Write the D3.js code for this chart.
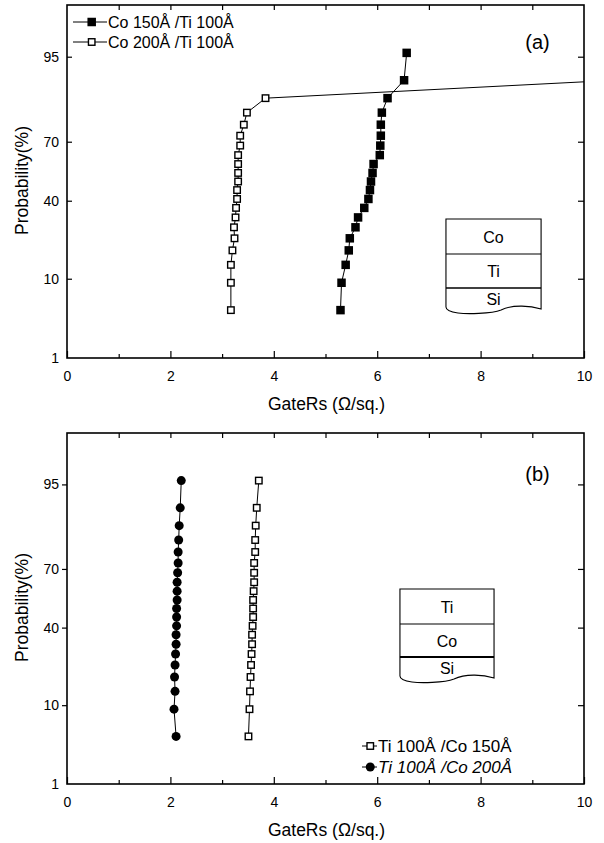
<!DOCTYPE html>
<html>
<head>
<meta charset="utf-8">
<script src="https://cdn.jsdelivr.net/npm/d3@7"></script>
<style>
  body { margin: 0; background: #fff; }
  svg { display: block; font-family: "Liberation Sans", Arial, Helvetica, sans-serif; }
</style>
</head>
<body>
<div id="grafica"></div>
<script>
// cumulative probability (%) of each sorted point, same for all four series
var probs = [4.5, 9.1, 13.6, 18.2, 22.7, 27.3, 31.8, 36.4, 40.9, 45.5, 50.0, 54.5, 59.1, 63.6, 68.2, 72.7, 77.3, 81.8, 86.4, 90.9, 95.5];

// panel (a) Co on Ti
var co150ti100 = [5.29, 5.31, 5.39, 5.45, 5.47, 5.58, 5.63, 5.75, 5.83, 5.86, 5.88, 5.91, 5.93, 6.05, 6.06, 6.07, 6.07, 6.09, 6.20, 6.52, 6.57];
var co200ti100 = [3.17, 3.17, 3.17, 3.20, 3.24, 3.23, 3.26, 3.27, 3.29, 3.29, 3.31, 3.31, 3.31, 3.31, 3.35, 3.35, 3.42, 3.48, 3.84, 10.6, 11.4];

// panel (b) Ti on Co
var ti100co150 = [3.51, 3.53, 3.54, 3.55, 3.56, 3.57, 3.58, 3.58, 3.59, 3.60, 3.60, 3.60, 3.61, 3.62, 3.62, 3.62, 3.64, 3.64, 3.65, 3.67, 3.71];
var ti100co200 = [2.11, 2.07, 2.09, 2.08, 2.09, 2.10, 2.11, 2.11, 2.12, 2.12, 2.12, 2.13, 2.13, 2.13, 2.14, 2.15, 2.15, 2.16, 2.17, 2.19, 2.21];

var xMajorTicks = [0, 2, 4, 6, 8, 10];
var xMinorTicks = [1, 3, 5, 7, 9];
var yTicks = [1, 10, 40, 70, 95];

// inverse normal cdf (Acklam) for the probability axis
function probit(p) {
    var a = [-3.969683028665376e+01, 2.209460984245205e+02, -2.759285104469687e+02, 1.383577518672690e+02, -3.066479806614716e+01, 2.506628277459239e+00];
    var b = [-5.447609879822406e+01, 1.615858368580409e+02, -1.556989798598866e+02, 6.680131188771972e+01, -1.328068155288572e+01];
    var c = [-7.784894002430293e-03, -3.223964580411365e-01, -2.400758277161838e+00, -2.549732539343734e+00, 4.374664141464968e+00, 2.938163982698783e+00];
    var d = [7.784695709041462e-03, 3.224671290700398e-01, 2.445134137142996e+00, 3.754408661907416e+00];
    var q, r;
    if (p < 0.02425) {
        q = Math.sqrt(-2 * Math.log(p));
        return (((((c[0] * q + c[1]) * q + c[2]) * q + c[3]) * q + c[4]) * q + c[5]) / ((((d[0] * q + d[1]) * q + d[2]) * q + d[3]) * q + 1);
    }
    if (p > 1 - 0.02425) {
        q = Math.sqrt(-2 * Math.log(1 - p));
        return -(((((c[0] * q + c[1]) * q + c[2]) * q + c[3]) * q + c[4]) * q + c[5]) / ((((d[0] * q + d[1]) * q + d[2]) * q + d[3]) * q + 1);
    }
    q = p - 0.5;
    r = q * q;
    return (((((a[0] * r + a[1]) * r + a[2]) * r + a[3]) * r + a[4]) * r + a[5]) * q / (((((b[0] * r + b[1]) * r + b[2]) * r + b[3]) * r + b[4]) * r + 1);
}

var width = 604, height = 843;
var left = 67, right = 584;

var svg = d3.select("#grafica").append("svg")
    .attr("width", width)
    .attr("height", height);

var x = d3.scaleLinear().domain([0, 10]).range([left, right]);

function serie(values) {
    return values.map(function (v, i) { return { x: v, p: probs[i] }; });
}

function dibujarPanel(cfg) {
    var y = d3.scaleLinear()
        .domain([probit(0.01), probit(0.99)])
        .range([cfg.bottom, cfg.top]);
    var yp = function (p) { return y(probit(p / 100)); };

    var g = svg.append("g");

    g.append("clipPath").attr("id", "clip" + cfg.id)
        .append("rect")
        .attr("x", left).attr("y", cfg.top)
        .attr("width", right - left).attr("height", cfg.bottom - cfg.top);

    // axes
    g.append("g")
        .attr("transform", "translate(0," + cfg.bottom + ")")
        .call(d3.axisBottom(x).tickValues(xMajorTicks).tickSizeInner(-7).tickSizeOuter(0).tickPadding(13));
    g.append("g")
        .attr("transform", "translate(0," + cfg.bottom + ")")
        .call(d3.axisBottom(x).tickValues(xMinorTicks).tickSizeInner(-4).tickSizeOuter(0).tickFormat(""));
    g.append("g")
        .attr("transform", "translate(0," + cfg.top + ")")
        .call(d3.axisTop(x).tickValues(d3.range(1, 10)).tickSizeInner(-5).tickSizeOuter(0).tickFormat(""));
    var leftAxis = g.append("g")
        .attr("transform", "translate(" + left + ",0)")
        .call(d3.axisLeft(y)
            .tickValues(yTicks.map(function (t) { return probit(t / 100); }))
            .tickFormat(function (d, i) { return yTicks[i]; })
            .tickSizeInner(cfg.leftTickOut ? 5 : -5).tickSizeOuter(0)
            .tickPadding(cfg.leftTickOut ? 3 : 8));
    g.append("g")
        .attr("transform", "translate(" + right + ",0)")
        .call(d3.axisRight(y)
            .tickValues(yTicks.slice(1).map(function (t) { return probit(t / 100); }))
            .tickSizeInner(-6).tickSizeOuter(0).tickFormat(""));

    g.selectAll(".domain").remove();
    g.selectAll(".tick line").attr("stroke", "#000").attr("stroke-width", 1.2);
    leftAxis.selectAll(".tick").filter(function (d, i) { return i === 0; }).select("line").remove();
    g.selectAll(".tick text").attr("fill", "#000").style("font-size", "14px")
        .style("font-family", "'Liberation Sans', Arial, sans-serif");

    g.append("rect")
        .attr("x", left).attr("y", cfg.top)
        .attr("width", right - left).attr("height", cfg.bottom - cfg.top)
        .attr("fill", "none").attr("stroke", "#000").attr("stroke-width", 1.6);

    // axis titles
    g.append("text")
        .attr("x", (left + right) / 2 + 1).attr("y", cfg.bottom + 52)
        .attr("text-anchor", "middle")
        .style("font-size", "17.5px")
        .text("GateRs (\u03A9/sq.)");
    g.append("text")
        .attr("transform", "translate(28," + ((cfg.top + cfg.bottom) / 2 - 1) + ") rotate(-90)")
        .attr("text-anchor", "middle")
        .style("font-size", "17.5px")
        .text("Probability(%)");

    g.append("text")
        .attr("x", x(9.1)).attr("y", cfg.top + cfg.labelDy)
        .attr("text-anchor", "middle")
        .style("font-size", "20px")
        .text(cfg.label);

    // layer stack inset
    var bx0 = x(cfg.inset.x0), bx1 = x(cfg.inset.x1);
    var ins = g.append("g").attr("fill", "none").attr("stroke", "#000").attr("stroke-width", 1.1);
    var yb = cfg.inset.ys;
    ins.append("path")
        .attr("d", "M" + bx0 + "," + (yb[3] - 5) + " L" + bx0 + "," + yb[0] + " L" + bx1 + "," + yb[0] + " L" + bx1 + "," + (yb[3] - 3) +
            " C" + (bx1 - 10) + "," + (yb[3] - 6) + " " + (bx1 - 28) + "," + (yb[3] - 8) + " " + (bx1 - 40) + "," + (yb[3] - 2) +
            " C" + (bx1 - 50) + "," + (yb[3] + 2) + " " + (bx0 + 20) + "," + (yb[3] + 2) + " " + (bx0 + 12) + "," + (yb[3] + 1) +
            " C" + (bx0 + 5) + "," + yb[3] + " " + bx0 + "," + (yb[3] - 2) + " " + bx0 + "," + (yb[3] - 5));
    ins.append("line").attr("x1", bx0).attr("x2", bx1).attr("y1", yb[1]).attr("y2", yb[1]);
    ins.append("line").attr("x1", bx0).attr("x2", bx1).attr("y1", yb[2]).attr("y2", yb[2]).attr("stroke-width", cfg.inset.siWidth);
    cfg.inset.layers.forEach(function (nombre, i) {
        g.append("text")
            .attr("x", (bx0 + bx1) / 2)
            .attr("y", i < 2 ? (yb[i] + yb[i + 1]) / 2 + 6 : yb[2] + 17)
            .attr("text-anchor", "middle")
            .style("font-size", "16px")
            .text(nombre);
    });

    // series
    var linea = d3.line().x(function (d) { return x(d.x); }).y(function (d) { return yp(d.p); });
    var datos = g.append("g").attr("clip-path", "url(#clip" + cfg.id + ")");
    cfg.series.forEach(function (s) {
        var pts = serie(s.values);
        datos.append("path")
            .datum(pts)
            .attr("d", linea)
            .attr("fill", "none")
            .attr("stroke", "#000")
            .attr("stroke-width", 1);
        dibujarMarcas(datos, pts.filter(function (d) { return d.x <= 10; }), s.marker, function (d) { return x(d.x); }, function (d) { return yp(d.p); });
    });

    // legend
    cfg.legend.forEach(function (item, i) {
        var ly = cfg.legendPos.y + i * cfg.legendPos.dy;
        var lx = cfg.legendPos.x;
        g.append("line")
            .attr("x1", lx).attr("x2", lx + cfg.legendPos.w)
            .attr("y1", ly).attr("y2", ly)
            .attr("stroke", "#000").attr("stroke-width", 1);
        dibujarMarcas(g, [0], item.marker, function () { return lx + cfg.legendPos.w * 0.55; }, function () { return ly; });
        g.append("text")
            .attr("x", lx + cfg.legendPos.w + 1).attr("y", ly + 6)
            .style("font-size", cfg.legendPos.font)
            .style("font-style", item.italic ? "italic" : "normal")
            .text(item.name);
    });
}

function dibujarMarcas(sel, pts, marker, fx, fy) {
    if (marker === "circle") {
        sel.selectAll(null).data(pts).enter().append("circle")
            .attr("cx", fx).attr("cy", fy).attr("r", 4.5)
            .attr("fill", "#000");
    } else {
        var s = marker === "filled" ? 8.5 : 6.5;
        sel.selectAll(null).data(pts).enter().append("rect")
            .attr("x", function (d) { return fx(d) - s / 2; })
            .attr("y", function (d) { return fy(d) - s / 2; })
            .attr("width", s).attr("height", s)
            .attr("fill", marker === "filled" ? "#000" : "#fff")
            .attr("stroke", "#000")
            .attr("stroke-width", marker === "filled" ? 0 : 1.4);
    }
}

dibujarPanel({
    id: "a", top: 5, bottom: 358, leftTickOut: false,
    label: "(a)", labelDy: 44,
    series: [
        { values: co200ti100, marker: "open" },
        { values: co150ti100, marker: "filled" }
    ],
    legend: [
        { name: "Co 150\u00C5 /Ti 100\u00C5", marker: "filled" },
        { name: "Co 200\u00C5 /Ti 100\u00C5", marker: "open" }
    ],
    legendPos: { x: 73, y: 22, dy: 20, w: 34, font: "16px" },
    inset: { x0: 7.33, x1: 9.17, ys: [219, 254, 288, 312], layers: ["Co", "Ti", "Si"], siWidth: 1.4 }
});

dibujarPanel({
    id: "b", top: 433, bottom: 784, leftTickOut: true,
    label: "(b)", labelDy: 48,
    series: [
        { values: ti100co150, marker: "open" },
        { values: ti100co200, marker: "circle" }
    ],
    legend: [
        { name: "Ti 100\u00C5 /Co 150\u00C5", marker: "open" },
        { name: "Ti 100\u00C5 /Co 200\u00C5", marker: "circle", italic: true }
    ],
    legendPos: { x: 362, y: 746, dy: 21, w: 15, font: "17px" },
    inset: { x0: 6.44, x1: 8.26, ys: [589, 624, 657, 681], layers: ["Ti", "Co", "Si"], siWidth: 2 }
});
</script>
</body>
</html>
